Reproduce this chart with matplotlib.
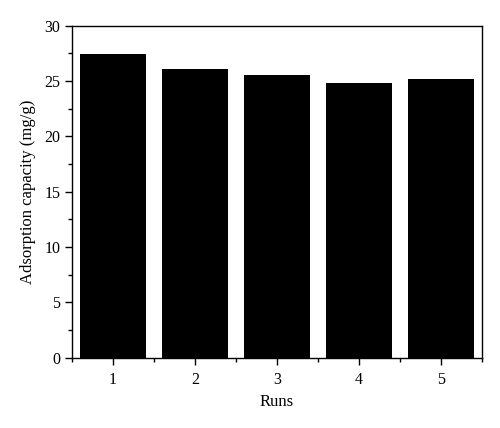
import numpy as np
import matplotlib.pyplot as plt
from matplotlib.ticker import MultipleLocator

runs = [1, 2, 3, 4, 5]
capacity = [27.4, 26.1, 25.5, 24.85, 25.15]

plt.rcParams['font.family'] = ['Liberation Serif', 'DejaVu Serif']

fig = plt.figure(figsize=(5, 4.28), dpi=100)
ax = fig.add_axes([0.144, 0.164, 0.82, 0.776])

ax.bar(runs, capacity, width=0.8, color='black')

ax.set_xlim(0.5, 5.5)
ax.set_ylim(0, 30)
ax.set_xticks(runs)
ax.xaxis.set_minor_locator(MultipleLocator(0.5))
ax.yaxis.set_major_locator(MultipleLocator(5))
ax.yaxis.set_minor_locator(MultipleLocator(2.5))
ax.tick_params(which='major', direction='out', length=5, width=1, labelsize=11.5)
ax.tick_params(axis='x', which='major', pad=5)
ax.tick_params(which='minor', direction='out', length=3, width=1)
for s in ax.spines.values():
    s.set_linewidth(1)

ax.set_xlabel("Runs", fontsize=12, labelpad=4.5)
ax.set_ylabel("Adsorption capacity (mg/g)", fontsize=12, labelpad=6)

fig.savefig("out.png", dpi=100)
